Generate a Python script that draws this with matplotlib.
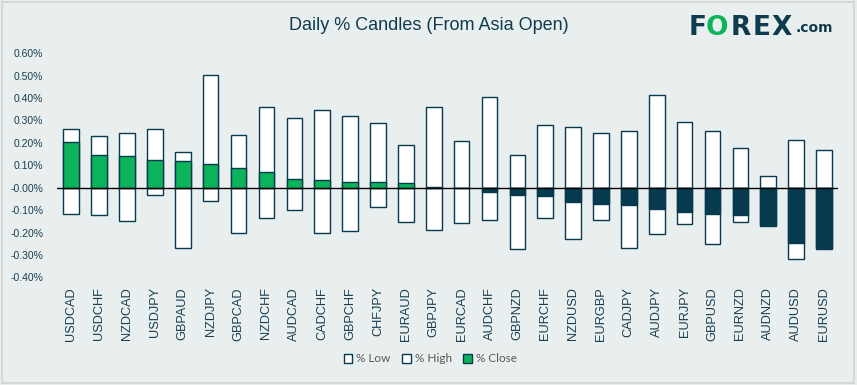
import numpy as np
import matplotlib
matplotlib.use('Agg')
import matplotlib.pyplot as plt
from matplotlib.patches import Patch, Rectangle

# data (percent)
pairs = ['USDCAD', 'USDCHF', 'NZDCAD', 'USDJPY', 'GBPAUD', 'NZDJPY', 'GBPCAD',
         'NZDCHF', 'AUDCAD', 'CADCHF', 'GBPCHF', 'CHFJPY', 'EURAUD', 'GBPJPY',
         'EURCAD', 'AUDCHF', 'GBPNZD', 'EURCHF', 'NZDUSD', 'EURGBP', 'CADJPY',
         'AUDJPY', 'EURJPY', 'GBPUSD', 'EURNZD', 'AUDNZD', 'AUDUSD', 'EURUSD']
pct_high = [0.260, 0.233, 0.246, 0.260, 0.161, 0.501, 0.237, 0.358, 0.309, 0.345,
            0.318, 0.291, 0.192, 0.362, 0.210, 0.407, 0.148, 0.282, 0.273, 0.246,
            0.251, 0.412, 0.295, 0.251, 0.175, 0.054, 0.215, 0.170]
pct_low = [-0.116, -0.121, -0.148, -0.031, -0.268, -0.058, -0.201, -0.134, -0.098, -0.201,
           -0.192, -0.085, -0.152, -0.188, -0.157, -0.143, -0.273, -0.134, -0.228, -0.143,
           -0.268, -0.206, -0.161, -0.251, -0.152, -0.173, -0.318, -0.273]
pct_close = [0.206, 0.148, 0.143, 0.125, 0.121, 0.107, 0.089, 0.072, 0.040, 0.036,
             0.027, 0.027, 0.022, 0.005, 0.000, -0.020, -0.033, -0.037, -0.064, -0.073,
             -0.078, -0.096, -0.109, -0.118, -0.123, -0.166, -0.248, -0.267]

bg = '#E9EFEF'
navy = '#073A4F'
green = '#0BB35B'
txt = '#1A3E50'

fig = plt.figure(figsize=(8.57, 3.85), dpi=100, facecolor=bg)
ax = fig.add_axes([0.0669, 0.2797, 0.9109, 0.5819], facecolor=bg)

x = np.arange(len(pairs))
w = 0.56
ax.bar(x, pct_high, w, color='white', edgecolor=navy, linewidth=1.0, zorder=2)
ax.bar(x, pct_low, w, color='white', edgecolor=navy, linewidth=1.0, zorder=2)
close_cols = [green if c > 0 else navy for c in pct_close]
ax.bar(x, pct_close, w, color=close_cols, edgecolor=navy, linewidth=1.0, zorder=3)
ax.axhline(0, color='black', lw=1.0, zorder=4)

ax.set_xlim(-0.5, len(pairs) - 0.5)
ax.set_ylim(-0.4, 0.6)
yt = np.arange(-0.4, 0.61, 0.1)
ax.set_yticks(yt)
ax.set_yticklabels(['%.2f%%' % v for v in yt], fontsize=7.5, color=txt,
                   fontfamily='Liberation Sans')
ax.set_xticks(x)
ax.set_xticklabels(pairs, rotation=90, fontsize=9.2, color=txt,
                   fontfamily='Liberation Sans')
ax.tick_params(axis='both', length=0)
ax.tick_params(axis='x', pad=7)
ax.tick_params(axis='y', pad=10)
for s in ax.spines.values():
    s.set_visible(False)

fig.text(0.5, 0.935, 'Daily % Candles (From Asia Open)', ha='center', va='center',
         fontsize=13, color='#0F3B4E', fontfamily='Liberation Sans')

# logo
lx = [689, 706, 731, 753, 772]
for ch, px in zip('FOREX', lx):
    fig.text(px / 857, 1 - 28 / 385, ch, ha='left', va='center', fontsize=19,
             fontweight='heavy', color=green if ch == 'O' else '#0F3B4E',
             fontfamily='DejaVu Sans')
fig.text(796 / 857, 1 - 28 / 385, '.com', ha='left', va='center', fontsize=10,
         fontweight='bold', color='#0F3B4E', fontfamily='DejaVu Sans')

handles = [Patch(facecolor='white', edgecolor=navy, label='% Low'),
           Patch(facecolor='white', edgecolor=navy, label='% High'),
           Patch(facecolor=green, edgecolor=navy, label='% Close')]
fig.legend(handles=handles, loc='center', bbox_to_anchor=(0.502, 1 - 359 / 385), ncol=3,
           frameon=False, handlelength=0.75, handleheight=0.75, handletextpad=0.3,
           columnspacing=1.0, prop={'family': 'Lato', 'size': 8.5}, labelcolor='#595959')

fig.patches.append(Rectangle((2 / 857, 2 / 385), 852 / 857, 381 / 385, transform=fig.transFigure,
                             fill=False, edgecolor='#D3D8D8', lw=1.5))

fig.savefig('out.png', dpi=100, facecolor=bg)
